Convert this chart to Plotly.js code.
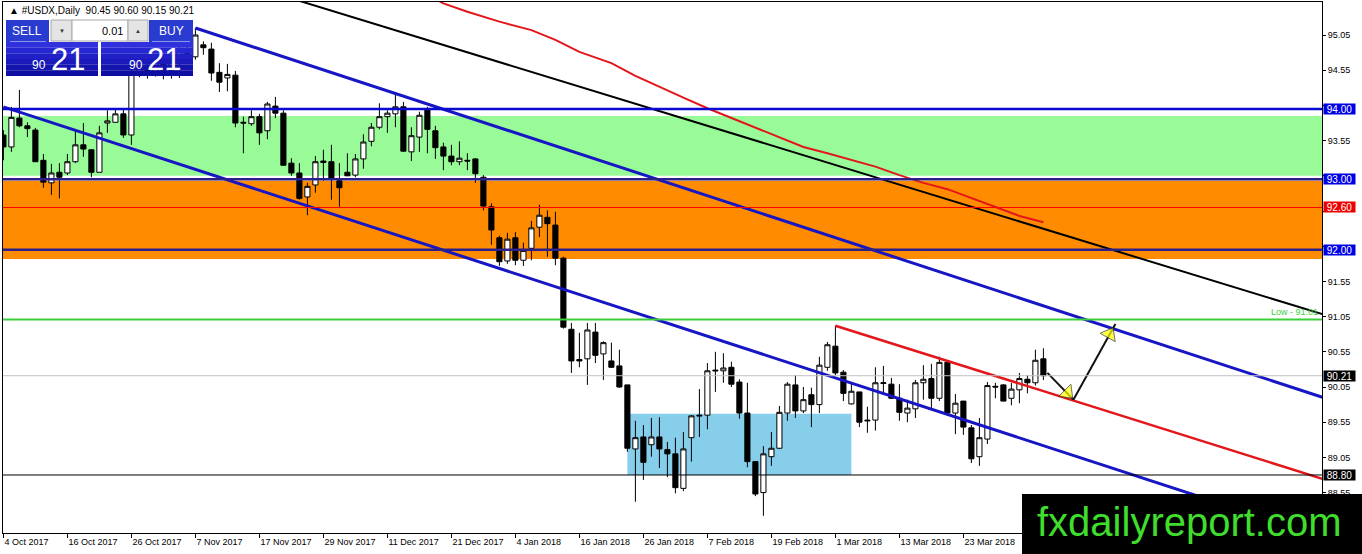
<!DOCTYPE html>
<html>
<head>
<meta charset="utf-8">
<script src="https://cdn.plot.ly/plotly-3.0.1.min.js"></script>
<style>
html, body { margin: 0; padding: 0; background: #fff; }
#chart { width: 1362px; height: 554px; }
</style>
</head>
<body>
<div id="chart"></div>
<script>
'use strict';

// daily bars, bar 0 = 4 Oct 2017 (weekends skipped like the terminal does)
var barOpen = [
	93.63, 93.46, 93.87, 93.76, 93.70, 93.27, 92.95, 93.10, 93.09, 93.25,
	93.49, 93.42, 93.10, 93.80, 93.81, 93.93, 93.63, 94.50, 94.62, 94.52,
	94.66, 94.55, 94.70, 94.82, 94.74, 94.91, 94.85, 94.52, 94.44, 94.48,
	93.81, 93.79, 93.89, 93.69, 94.04, 93.94, 93.23, 93.09, 92.75, 92.92,
	93.26, 93.25, 92.98, 93.10, 93.06, 93.29, 93.54, 93.74, 93.89, 93.93,
	94.03, 93.39, 93.60, 93.99, 93.69, 93.46, 93.33, 93.25, 93.27, 93.29,
	93.03, 92.61, 92.17, 91.84, 92.17, 91.85, 92.02, 92.32, 92.46, 92.35,
	91.88, 90.87, 90.44, 90.45, 90.83, 90.52, 90.42, 90.35, 90.08, 89.17,
	89.34, 89.23, 89.34, 89.16, 89.10, 88.61, 89.33, 89.65, 89.65, 90.29,
	90.28, 90.33, 90.12, 89.68, 88.99, 88.55, 89.06, 89.18, 89.68, 90.08,
	89.71, 89.94, 89.80, 90.33, 90.63, 90.26, 89.81, 89.98, 89.58, 89.58,
	90.10, 90.09, 89.89, 89.68, 89.74, 90.11, 90.17, 89.89, 90.40, 89.68,
	89.85, 89.47, 89.06, 89.31, 90.06, 90.08, 89.89, 90.01, 90.16, 90.11,
	90.45
];
var barHigh = [
	93.70, 94.03, 94.27, 93.81, 93.73, 93.36, 93.22, 93.23, 93.36, 93.70,
	93.80, 93.42, 93.76, 93.98, 94.01, 94.01, 94.62, 94.70, 94.72, 94.75,
	94.74, 94.78, 94.88, 94.90, 95.15, 94.96, 94.94, 94.65, 94.64, 94.54,
	93.89, 93.98, 93.93, 94.10, 94.17, 93.98, 93.30, 93.23, 92.95, 93.33,
	93.42, 93.49, 93.23, 93.37, 93.36, 93.64, 93.80, 94.08, 93.98, 94.20,
	94.10, 93.74, 93.96, 94.03, 93.76, 93.52, 93.49, 93.54, 93.37, 93.30,
	93.06, 92.66, 92.20, 92.24, 92.25, 92.10, 92.41, 92.64, 92.56, 92.54,
	91.90, 90.96, 90.82, 90.96, 90.96, 90.70, 90.68, 90.58, 90.08, 89.57,
	89.51, 89.61, 89.62, 89.27, 89.33, 89.41, 89.65, 90.02, 90.39, 90.55,
	90.53, 90.41, 90.16, 90.11, 88.99, 89.21, 89.41, 89.78, 90.12, 90.22,
	90.05, 90.04, 90.48, 90.69, 90.92, 90.29, 90.12, 89.98, 89.77, 90.33,
	90.35, 90.18, 90.09, 89.87, 90.15, 90.36, 90.38, 90.48, 90.41, 89.95,
	89.85, 89.51, 89.61, 90.12, 90.11, 90.09, 90.11, 90.25, 90.22, 90.58,
	90.60
];
var barLow = [
	93.27, 93.39, 93.74, 93.60, 93.25, 92.88, 92.78, 92.73, 93.06, 93.23,
	93.32, 93.03, 93.10, 93.66, 93.81, 93.59, 93.49, 94.45, 94.43, 94.46,
	94.42, 94.43, 94.44, 94.66, 94.70, 94.77, 94.40, 94.24, 94.25, 93.74,
	93.37, 93.76, 93.49, 93.57, 93.87, 93.19, 93.05, 92.71, 92.49, 92.81,
	92.98, 92.71, 92.61, 93.05, 93.03, 93.15, 93.47, 93.71, 93.66, 93.74,
	93.39, 93.26, 93.39, 93.37, 93.29, 93.13, 93.20, 93.20, 93.13, 92.95,
	92.56, 92.07, 91.77, 91.80, 91.78, 91.77, 91.85, 92.18, 91.90, 91.78,
	90.88, 90.25, 90.33, 90.08, 90.39, 90.15, 90.32, 90.04, 89.13, 88.42,
	88.73, 89.06, 88.90, 88.77, 88.54, 88.57, 88.99, 89.34, 89.45, 89.98,
	90.11, 90.05, 89.60, 88.91, 88.50, 88.22, 88.93, 89.17, 89.57, 89.61,
	89.68, 89.48, 89.68, 90.28, 90.22, 89.85, 89.80, 89.48, 89.40, 89.43,
	89.94, 89.88, 89.57, 89.55, 89.61, 89.87, 89.72, 89.85, 89.64, 89.38,
	89.37, 88.97, 88.93, 89.24, 89.89, 89.85, 89.79, 89.82, 89.96, 90.07,
	90.15
];
var barClose = [
	93.46, 93.88, 93.76, 93.72, 93.25, 92.96, 93.09, 93.03, 93.25, 93.49,
	93.43, 93.10, 93.66, 93.83, 93.93, 93.63, 94.50, 94.62, 94.52, 94.66,
	94.55, 94.70, 94.82, 94.74, 95.05, 94.87, 94.51, 94.38, 94.49, 93.80,
	93.80, 93.89, 93.66, 94.07, 93.94, 93.20, 93.09, 92.73, 92.90, 93.25,
	93.24, 93.00, 92.88, 93.05, 93.29, 93.53, 93.74, 93.89, 93.94, 94.03,
	93.40, 93.62, 93.91, 93.71, 93.45, 93.33, 93.25, 93.30, 93.26, 93.08,
	92.62, 92.28, 91.83, 92.15, 91.85, 91.99, 92.31, 92.49, 92.37, 91.88,
	90.90, 90.42, 90.42, 90.86, 90.50, 90.68, 90.33, 90.05, 89.18, 89.33,
	88.98, 89.34, 89.17, 89.10, 88.62, 89.17, 89.64, 89.64, 90.28, 90.28,
	90.32, 90.09, 89.68, 88.99, 88.53, 89.10, 89.18, 89.69, 90.09, 89.71,
	89.87, 89.80, 90.36, 90.65, 90.25, 89.96, 89.99, 89.55, 89.57, 90.11,
	90.11, 89.89, 89.69, 89.75, 90.11, 90.16, 89.89, 90.40, 89.68, 89.82,
	89.48, 89.03, 89.33, 90.07, 90.05, 89.85, 90.02, 90.17, 90.11, 90.43,
	90.21
];

var dateTickBars = [0, 8, 16, 24, 32, 40, 48, 56, 64, 72, 80, 88, 96, 104, 112, 120];
var dateTickLabels = [
	'4 Oct 2017', '16 Oct 2017', '26 Oct 2017', '7 Nov 2017', '17 Nov 2017', '29 Nov 2017',
	'11 Dec 2017', '21 Dec 2017', '4 Jan 2018', '16 Jan 2018', '26 Jan 2018', '7 Feb 2018',
	'19 Feb 2018', '1 Mar 2018', '13 Mar 2018', '23 Mar 2018'
];
var priceTicks = [88.55, 89.05, 89.55, 90.05, 90.55, 91.05, 91.55, 92.05, 92.55, 93.05, 93.55, 94.05, 94.55, 95.05];
// these scale labels sit under the level tags in the terminal, so only their tick marks show
var hiddenPriceTicks = [92.05, 92.55, 93.05, 94.05];

// moving average
var maBars = [54, 55, 58, 62, 66, 69, 72, 76, 79, 82, 85, 88, 91, 94, 97, 100, 103, 106, 109, 112, 115, 118, 121, 124, 127, 130];
var maValues = [95.56, 95.50, 95.38, 95.24, 95.12, 94.98, 94.81, 94.65, 94.47, 94.31, 94.16, 94.01, 93.87, 93.74, 93.59, 93.46, 93.37, 93.27, 93.18, 93.06, 92.95, 92.86, 92.73, 92.61, 92.48, 92.39];

// drawn trend lines (bar, price at each end)
var blackLineBars = [36, 165];
var blackLinePrices = [95.57, 91.08];
var upperChannelBars = [24, 165];
var upperChannelPrices = [95.15, 89.90];
var lowerChannelBars = [0, 165];
var lowerChannelPrices = [94.03, 87.92];
var redChannelBars = [104, 165];
var redChannelPrices = [90.92, 88.74];
var arrowDownBars = [130.5, 133, 133.75];
var arrowDownPrices = [90.25, 89.965, 89.87];
var arrowUpBars = [133.75, 138.25, 139];
var arrowUpPrices = [89.87, 90.80, 90.945];

// horizontal levels and zones
var levelBlue = [94.00];
var levelNavy = [93.00, 92.00];
var levelRed = 92.60;
var levelLow = 91.01;
var lastPrice = 90.21;
var levelSupport = 88.80;
var greenZone = [93.05, 93.90];
var orangeZone = [91.87, 92.98];
var boxBars = [78, 106];
var boxPrices = [88.80, 89.67];

var FONT = 'Liberation Sans, Arial, sans-serif';

// plot area in pixels, for the terminal widgets drawn on top
var PL = 3, PT = 2, PW = 1319, PH = 531;
function px(x) { return (x - PL) / PW; }
function py(y) { return (PT + PH - y) / PH; }

var barIndex = barOpen.map(function (v, i) { return i; });

var traces = [
	{
		type: 'candlestick',
		x: barIndex,
		open: barOpen,
		high: barHigh,
		low: barLow,
		close: barClose,
		whiskerwidth: 0,
		increasing: { line: { color: '#000', width: 1 }, fillcolor: '#fff' },
		decreasing: { line: { color: '#000', width: 1 }, fillcolor: '#000' },
		hoverinfo: 'none',
	},
	{ type: 'scatter', mode: 'lines', x: maBars, y: maValues, line: { color: '#e3161b', width: 2 }, hoverinfo: 'none' },
	{ type: 'scatter', mode: 'lines', x: blackLineBars, y: blackLinePrices, line: { color: '#000', width: 2 }, hoverinfo: 'none' },
	{ type: 'scatter', mode: 'lines', x: upperChannelBars, y: upperChannelPrices, line: { color: '#1616c4', width: 3 }, hoverinfo: 'none' },
	{ type: 'scatter', mode: 'lines', x: lowerChannelBars, y: lowerChannelPrices, line: { color: '#1616c4', width: 3 }, hoverinfo: 'none' },
	{ type: 'scatter', mode: 'lines', x: redChannelBars, y: redChannelPrices, line: { color: '#e3161b', width: 2.5 }, hoverinfo: 'none' },
];

[[arrowDownBars, arrowDownPrices], [arrowUpBars, arrowUpPrices]].forEach(function (a) {
	traces.push({
		type: 'scatter',
		mode: 'lines+markers',
		x: a[0],
		y: a[1],
		line: { color: '#111', width: 2 },
		marker: {
			symbol: 'triangle-up',
			angleref: 'previous',
			size: [0, 15, 0],
			color: '#ffff00',
			line: { color: '#333', width: 1 },
		},
		hoverinfo: 'none',
	});
});

function hLine(price, color, width) {
	return {
		type: 'line', layer: 'above', xref: 'paper', x0: 0, x1: 1, yref: 'y', y0: price, y1: price,
		line: { color: color, width: width },
	};
}
function pxRect(x0, y0, x1, y1, fill, lineColor) {
	return {
		type: 'rect', layer: 'above', xref: 'paper', yref: 'paper',
		x0: px(x0), x1: px(x1), y0: py(y1), y1: py(y0),
		fillcolor: fill,
		line: { color: lineColor || fill, width: lineColor ? 1 : 0 },
	};
}

var shapes = [
	{ type: 'rect', layer: 'below', xref: 'paper', x0: 0, x1: 1, yref: 'y', y0: greenZone[0], y1: greenZone[1], fillcolor: '#98fb98', line: { width: 0 } },
	{ type: 'rect', layer: 'below', xref: 'paper', x0: 0, x1: 1, yref: 'y', y0: orangeZone[0], y1: orangeZone[1], fillcolor: '#ff8c00', line: { width: 0 } },
	{ type: 'rect', layer: 'below', xref: 'x', x0: boxBars[0], x1: boxBars[1], yref: 'y', y0: boxPrices[0], y1: boxPrices[1], fillcolor: '#87ceeb', line: { width: 0 } },
	hLine(levelBlue[0], '#0a0ad2', 2.5),
	hLine(levelNavy[0], '#2b1f8a', 2.5),
	hLine(levelNavy[1], '#2b1f8a', 2.5),
	hLine(levelRed, '#ff0000', 1),
	hLine(levelLow, '#3ccf3c', 2),
	hLine(lastPrice, '#c0c0c0', 1),
	hLine(levelSupport, '#000', 1),
];

// order panel (top left) with a simple vertical gradient on the price boxes
shapes.push(pxRect(6, 20, 49, 42, '#2a3bd0'));
shapes.push(pxRect(149, 20, 193, 42, '#2a3bd0'));
shapes.push(pxRect(51, 20, 72, 41, '#e4e4e4', '#a8a8a8'));
shapes.push(pxRect(72, 20, 128, 41, '#ffffff', '#a8a8a8'));
shapes.push(pxRect(128, 20, 148, 41, '#e4e4e4', '#a8a8a8'));
var bandColors = ['#3030dc', '#2828d2', '#2020c6', '#1a1aba', '#1414ae', '#0e0ea2'];
bandColors.forEach(function (c, k) {
	var y0 = 42 + k * 34 / bandColors.length;
	var y1 = 42 + (k + 1) * 34 / bandColors.length;
	shapes.push(pxRect(6, y0, 98, y1, c));
	shapes.push(pxRect(101, y0, 193, y1, c));
});
shapes.push({ type: 'line', layer: 'above', xref: 'paper', yref: 'paper', x0: px(10), x1: px(46), y0: py(41.5), y1: py(41.5), line: { color: '#8a96e8', width: 1 } });
shapes.push({ type: 'line', layer: 'above', xref: 'paper', yref: 'paper', x0: px(152), x1: px(190), y0: py(41.5), y1: py(41.5), line: { color: '#8a96e8', width: 1 } });

// watermark box
shapes.push(pxRect(1022, 494, 1362, 554, '#000000'));

function tag(price, bg) {
	return {
		xref: 'paper', x: 1, xanchor: 'left', xshift: 1,
		yref: 'y', y: price, yanchor: 'middle',
		text: price.toFixed(2), showarrow: false,
		bgcolor: bg, width: 31, height: 10, borderpad: 0, align: 'center',
		font: { family: FONT, size: 10, color: '#fff' },
	};
}
function pxText(x, y, text, size, color, anchor) {
	return {
		xref: 'paper', yref: 'paper', x: px(x), y: py(y),
		xanchor: anchor || 'center', yanchor: 'middle',
		text: text, showarrow: false,
		font: { family: FONT, size: size, color: color },
	};
}

var annotations = [
	tag(levelBlue[0], '#0000e6'),
	tag(levelNavy[0], '#0000e6'),
	tag(levelRed, '#ee0000'),
	tag(levelNavy[1], '#0000e6'),
	tag(lastPrice, '#000000'),
	tag(levelSupport, '#000000'),
	{
		xref: 'paper', x: 1, xanchor: 'right', xshift: -2,
		yref: 'y', y: levelLow, yanchor: 'bottom',
		text: 'Low - ' + levelLow.toFixed(2), showarrow: false,
		font: { family: FONT, size: 9, color: '#3ccf3c' },
	},
	pxText(7, 10, '\u25B2 #USDX,Daily\u00a0 90.45 90.60 90.15 90.21', 10, '#000', 'left'),
	pxText(27, 31, 'SELL', 12, '#fff'),
	pxText(61.5, 30.5, '\u25BC', 6, '#333'),
	pxText(125, 30.5, '0.01', 11, '#000', 'right'),
	pxText(138, 30.5, '\u25B2', 6, '#333'),
	pxText(171, 31, 'BUY', 12, '#fff'),
	pxText(39, 65, '90', 12, '#fff'),
	pxText(68, 59, '21', 31, '#fff'),
	pxText(136, 65, '90', 12, '#fff'),
	pxText(164, 59, '21', 31, '#fff'),
	pxText(1189, 522, 'fxdailyreport.com', 40, '#3fde2c'),
];

var layout = {
	width: 1362,
	height: 554,
	margin: { l: PL, r: 1362 - PL - PW, t: PT, b: 554 - PT - PH, pad: 0 },
	paper_bgcolor: '#fff',
	plot_bgcolor: '#fff',
	showlegend: false,
	hovermode: false,
	dragmode: false,
	boxgap: 0.2,
	boxgroupgap: 0.2,
	xaxis: {
		range: [-0.05, 164.825],
		rangeslider: { visible: false },
		tickmode: 'array',
		tickvals: dateTickBars,
		ticktext: dateTickLabels,
		ticks: 'outside',
		ticklen: 4,
		tickcolor: '#000',
		ticklabelposition: 'outside right',
		tickfont: { family: FONT, size: 9, color: '#000' },
		showgrid: false,
		zeroline: false,
		showline: true,
		mirror: true,
		linecolor: '#000',
		linewidth: 1,
	},
	yaxis: {
		side: 'right',
		range: [87.976, 95.519],
		tickmode: 'array',
		tickvals: priceTicks,
		ticktext: priceTicks.map(function (v) {
			return hiddenPriceTicks.indexOf(v) >= 0 ? '' : v.toFixed(2);
		}),
		ticks: 'outside',
		ticklen: 3,
		tickcolor: '#000',
		tickfont: { family: FONT, size: 9, color: '#000' },
		showgrid: false,
		zeroline: false,
		showline: true,
		mirror: true,
		linecolor: '#000',
		linewidth: 1,
	},
	shapes: shapes,
	annotations: annotations,
};

Plotly.newPlot('chart', traces, layout, { displayModeBar: false, staticPlot: true });
</script>
</body>
</html>
